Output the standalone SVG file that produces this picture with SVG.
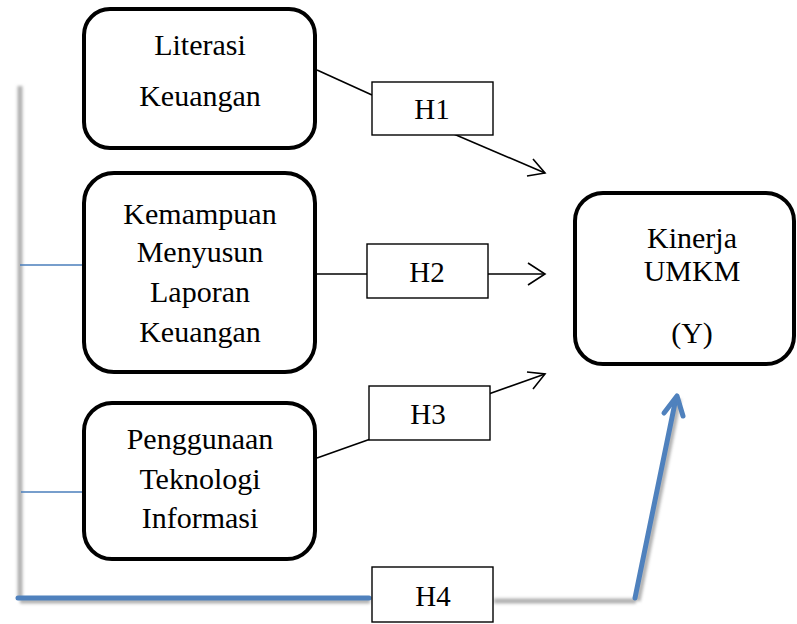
<svg xmlns="http://www.w3.org/2000/svg" width="797" height="624" viewBox="0 0 797 624">
<defs>
<style>
.node{fill:#fff;stroke:#000;stroke-width:4}
.hbox{fill:#fff;stroke:#000;stroke-width:1.4}
.t{font-size:30px;fill:#000;text-anchor:middle}
.ht{font-size:29px;fill:#000;text-anchor:middle}
.ln{fill:none;stroke:#000;stroke-width:1.6}
.blue{fill:none;stroke:#4f81bd;stroke-width:5;stroke-linecap:round;stroke-linejoin:round}
.bthin{fill:none;stroke:#4a7ebb;stroke-width:1.5}
.shadow{fill:none;stroke:#b0b0b0;stroke-width:5}
</style>
<filter id="blur" filterUnits="userSpaceOnUse" x="0" y="0" width="797" height="624"><feGaussianBlur stdDeviation="1.5"/></filter>
</defs>
<rect width="797" height="624" fill="#fff"/>
<g id="connectors">
<g filter="url(#blur)">
<line class="shadow" x1="20" y1="86" x2="20" y2="598"/>
<line class="shadow" x1="20" y1="601" x2="370" y2="601"/>
<line class="shadow" x1="494" y1="601" x2="636" y2="601"/>
<line class="shadow" x1="638" y1="601" x2="679" y2="399"/>
</g>
<line class="blue" x1="18" y1="598" x2="369" y2="598"/>
<polyline class="blue" points="635,598 676,398"/>
<polyline class="blue" points="664,413 677,396 683,416"/>
<line class="bthin" x1="20" y1="265" x2="91" y2="265"/>
<line class="bthin" x1="21" y1="492" x2="93" y2="492"/>
<line class="ln" x1="317" y1="70" x2="372" y2="95"/>
<line class="ln" x1="435" y1="126" x2="545" y2="173"/>
<polyline class="ln" points="527,176 545,173 533,159"/>
<line class="ln" x1="317" y1="274" x2="367" y2="274"/>
<line class="ln" x1="488" y1="274" x2="545" y2="274"/>
<polyline class="ln" points="528,263 545,274 528,285"/>
<line class="ln" x1="317" y1="458" x2="393" y2="431"/>
<line class="ln" x1="483" y1="396" x2="545" y2="374"/>
<polyline class="ln" points="527,372 545,374 533,389"/>
</g>
<g id="literasi" font-family="Liberation Serif, Times New Roman, serif">
<rect class="node" x="84" y="9" width="231" height="139" rx="26"/>
<text class="t" x="200" y="55">Literasi</text>
<text class="t" x="200" y="106">Keuangan</text>
</g>
<g id="kemampuan" font-family="Liberation Serif, Times New Roman, serif">
<rect class="node" x="84" y="173" width="231" height="199" rx="30"/>
<text class="t" x="200" y="224">Kemampuan</text>
<text class="t" x="200" y="262">Menyusun</text>
<text class="t" x="200" y="302">Laporan</text>
<text class="t" x="200" y="342">Keuangan</text>
</g>
<g id="penggunaan" font-family="Liberation Serif, Times New Roman, serif">
<rect class="node" x="84" y="403" width="231" height="156" rx="28"/>
<text class="t" x="200" y="449">Penggunaan</text>
<text class="t" x="200" y="489">Teknologi</text>
<text class="t" x="200" y="528">Informasi</text>
</g>
<g id="kinerja" font-family="Liberation Serif, Times New Roman, serif">
<rect class="node" x="575" y="193" width="219" height="171" rx="28"/>
<text class="t" x="692" y="248">Kinerja</text>
<text class="t" x="692" y="281">UMKM</text>
<text class="t" x="692" y="343">(Y)</text>
</g>
<g id="h1" font-family="Liberation Serif, Times New Roman, serif">
<rect class="hbox" x="372" y="82" width="121" height="53"/>
<text class="ht" x="432" y="119">H1</text>
</g>
<g id="h2" font-family="Liberation Serif, Times New Roman, serif">
<rect class="hbox" x="367" y="244" width="121" height="54"/>
<text class="ht" x="427" y="282">H2</text>
</g>
<g id="h3" font-family="Liberation Serif, Times New Roman, serif">
<rect class="hbox" x="369" y="386" width="121" height="54"/>
<text class="ht" x="428" y="424">H3</text>
</g>
<g id="h4" font-family="Liberation Serif, Times New Roman, serif">
<rect class="hbox" x="372" y="567" width="121" height="55"/>
<text class="ht" x="433" y="606">H4</text>
</g>
</svg>
